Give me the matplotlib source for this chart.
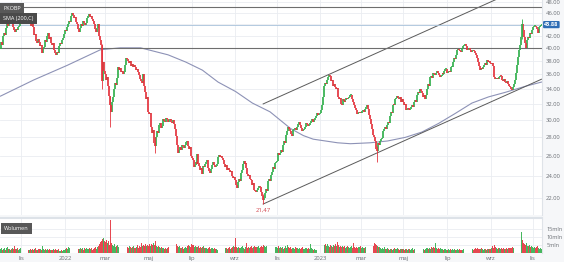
import numpy as np
import pandas as pd
import matplotlib
matplotlib.use('Agg')
from matplotlib import pyplot as plt
from matplotlib.ticker import FixedLocator, FuncFormatter, NullLocator

# kursy zamkniecia PKOBP, sesja po sesji (od 1 paz 2021)
close_2021 = [
    39.8, 40.9, 40.5, 41.9, 42.4, 42.1, 43.3, 44.0, 43.6, 44.8, 45.0, 44.2, 44.5, 43.4, 43.0, 42.6, 43.1, 42.9, 43.4, 43.7, 44.2,
    44.0, 44.6, 45.3, 45.0, 46.0, 45.5, 45.7, 44.8, 44.2, 44.5, 43.7, 43.9, 43.4, 42.1, 42.3, 41.1, 40.8, 41.4, 41.0, 40.3, 40.5, 39.2,
    39.9, 40.2, 41.2, 41.0, 41.9, 42.4, 42.0, 41.5, 41.7, 40.8, 40.5, 40.7, 39.7, 39.2, 38.9, 39.4, 39.2, 40.3, 40.8, 40.6, 41.3, 41.6, 42.2,
]
close_2022 = [
    43.0, 42.7, 43.4, 44.0, 44.6, 44.3, 45.4, 46.0, 45.6, 45.0, 45.3, 44.3, 44.0, 43.2, 42.6, 43.3, 44.0, 43.7, 44.6, 44.2, 43.8,
    44.2, 45.0, 45.4, 45.7, 45.3, 45.5, 44.9, 44.6, 44.0, 43.2, 42.6, 43.3, 43.9, 42.8, 42.0, 41.3, 40.5, 35.0, 37.8, 36.5,
    36.0, 35.2, 35.6, 34.3, 33.0, 31.8, 31.0, 32.3, 32.9, 34.0, 34.8, 34.5, 35.5, 37.0, 36.6, 36.9, 36.3, 36.5, 36.0, 36.4, 37.3, 38.4, 38.2,
    38.0, 37.6, 37.9, 37.2, 37.5, 37.0, 37.3, 37.0, 36.6, 36.8, 36.3, 35.9, 35.4, 35.0, 34.8, 36.0, 34.4, 33.5, 32.6, 32.9, 31.4,
    31.0, 30.7, 30.9, 29.2, 28.5, 28.8, 27.4, 27.1, 28.0, 28.7, 28.5, 29.4, 29.6, 29.1, 29.3, 30.1, 29.9, 29.8, 30.2, 30.1, 29.8, 30.0,
    30.1, 29.8, 29.6, 30.0, 29.5, 29.0, 28.2, 27.2, 26.3, 26.6, 26.9, 26.6, 27.2, 27.0, 26.8, 27.2, 27.5, 27.6, 27.1, 26.7, 26.9, 26.0,
    25.8, 25.6, 24.9, 25.1, 25.4, 25.2, 26.2, 25.3, 25.0, 24.6, 24.8, 24.2, 25.0, 24.9, 25.2, 25.4, 25.6, 24.8, 24.5, 24.3, 24.7,
    25.1, 25.4, 25.1, 24.9, 25.0, 25.2, 25.9, 26.1, 25.9, 26.0, 25.8, 25.6, 25.2, 24.9, 25.1, 24.6, 24.8, 24.6, 24.4, 24.5, 24.0, 23.8, 23.9,
    23.6, 23.2, 22.9, 23.4, 23.7, 23.5, 24.3, 24.6, 25.2, 25.5, 25.2, 25.3, 24.8, 24.2, 24.0, 24.1, 23.7, 23.6, 23.2, 23.3, 22.7, 22.6,
    22.5, 22.7, 22.9, 23.1, 23.0, 22.5, 22.2, 21.8, 22.0, 22.4, 22.8, 22.6, 23.5, 23.7, 23.5, 24.1, 24.4, 24.9, 24.7, 25.3, 25.4,
    25.5, 26.3, 26.1, 26.3, 26.6, 26.4, 27.2, 27.6, 27.4, 28.3, 28.7, 29.2, 29.0, 28.7, 28.4, 28.2, 28.8, 29.0, 29.1, 28.9, 28.8, 29.2,
    29.5, 29.8, 29.4, 29.1, 28.7, 28.8, 28.9, 29.2, 29.6, 29.5, 29.3, 29.4, 29.6, 29.9, 30.1, 29.8, 30.0, 30.3, 30.5, 30.8, 30.6, 30.7,
]
close_2023 = [
    30.8, 31.2, 31.8, 32.9, 34.4, 34.8, 34.6, 35.2, 35.6, 35.9, 35.7, 35.0, 35.2, 34.4, 34.6, 34.2, 33.9, 34.1, 32.9, 32.6, 32.8, 32.0,
    31.8, 32.6, 32.4, 32.2, 32.5, 32.8, 32.6, 32.7, 32.9, 33.1, 33.2, 32.6, 32.2, 31.8, 31.5, 31.2, 30.7, 30.9, 31.0, 30.8,
    30.9, 31.1, 31.2, 31.0, 31.4, 31.6, 31.8, 31.3, 30.6, 30.1, 29.5, 29.0, 28.3, 28.0, 27.6, 26.7, 26.5, 27.4, 27.2, 27.6, 27.8, 27.9, 28.7,
    28.9, 29.2, 29.0, 29.4, 29.8, 29.6, 30.5, 31.0, 30.8, 31.8, 32.0, 31.8, 32.6, 32.8, 33.0, 32.8, 32.6, 32.9, 32.2, 32.6,
    32.2, 31.8, 32.0, 31.2, 31.3, 31.5, 31.2, 31.4, 31.6, 31.8, 31.6, 32.2, 32.5, 32.3, 33.2, 33.6, 33.4, 33.9, 33.7, 33.4, 32.9, 33.1, 32.6,
    33.2, 33.9, 34.6, 34.4, 35.6, 35.8, 35.5, 36.2, 36.0, 35.9, 36.2, 36.5, 36.2, 35.9, 35.6, 35.8, 35.9, 36.2, 36.0, 36.5, 36.7, 36.8,
    36.2, 36.4, 36.5, 36.3, 37.0, 37.1, 37.8, 38.4, 38.2, 38.9, 39.7, 39.8, 39.7, 39.5, 39.4, 40.0, 40.3, 40.5, 40.6, 40.3, 39.7,
    39.8, 40.0, 39.7, 39.4, 39.5, 39.7, 39.5, 39.2, 38.8, 38.4, 37.8, 37.2, 36.6, 36.9, 36.8, 37.1, 37.3, 37.6, 37.4, 38.1, 37.8, 37.9, 37.6,
    37.5, 37.7, 37.3, 37.2, 35.6, 35.3, 35.4, 35.5, 35.3, 35.6, 35.8, 35.7, 35.2, 35.1, 35.3, 34.9, 34.8, 35.0, 34.7, 34.4, 34.2,
    34.0, 33.8, 34.2, 34.7, 35.2, 36.2, 37.3, 38.6, 39.7, 40.5, 41.8, 44.0, 43.0, 41.8, 40.8, 40.0, 41.3, 41.8, 41.6, 42.4, 42.2, 42.9,
    43.4, 43.6, 43.7, 43.5, 43.2, 42.4, 43.4, 43.7, 43.8, 43.88,
]

# wolumen w mln akcji
vol_2021 = [
    2.4, 3.0, 2.1, 2.6, 3.2, 2.0, 2.8, 3.5, 2.2, 2.7, 1.9, 2.5, 3.1, 2.3, 4.0, 2.6, 2.2, 2.9, 2.0, 2.4, 3.3,
    2.6, 4.1, 2.8, 2.2, 2.0, 2.5, 1.8, 2.3, 2.1, 1.9, 2.6, 2.0, 2.4, 1.7, 2.2, 2.9, 2.0, 1.8, 2.5, 2.2, 2.7, 2.0,
    4.4, 2.3, 2.0, 2.6, 1.8, 2.2, 1.9, 2.4, 2.0, 1.7, 2.1, 2.5, 1.9, 2.2, 1.6, 1.8, 2.3, 1.5, 1.4, 1.9, 1.2, 1.6, 2.0,
]
vol_2022 = [
    2.6, 3.0, 2.4, 3.6, 2.8, 3.9, 2.5, 3.2, 2.7, 2.2, 3.4, 2.9, 2.1, 3.8, 2.6, 2.4, 3.0, 2.3, 2.8, 2.0, 3.3,
    2.5, 2.9, 2.2, 2.6, 3.1, 2.4, 2.8, 2.0, 2.7, 3.0, 3.4, 2.6, 3.8, 4.2, 5.5, 6.8, 7.6, 8.9, 9.4, 7.2,
    6.5, 8.0, 5.9, 7.4, 4.8, 20.3, 6.2, 5.1, 4.6, 5.8, 3.9, 4.4, 5.2, 3.6, 4.9, 3.8, 4.2, 3.3, 4.6, 3.5, 3.0, 4.1, 3.4,
    3.8, 3.2, 4.4, 3.6, 2.9, 3.4, 4.0, 3.1, 2.8, 3.5, 4.8, 3.3, 4.2, 3.7, 5.9, 4.5, 5.2, 4.0, 5.6, 4.3, 4.9,
    4.6, 5.4, 4.1, 5.8, 4.7, 6.0, 5.1, 7.1, 4.4, 3.8, 4.2, 3.5, 3.1, 3.7, 2.8, 3.3, 2.6, 3.0, 2.4, 2.9, 3.4, 2.5,
    2.8, 3.1, 2.4, 3.6, 2.7, 3.9, 4.8, 5.3, 4.6, 3.5, 4.1, 3.2, 2.9, 3.6, 2.7, 3.3, 3.8, 3.0, 4.5, 5.0, 4.2, 3.6,
    5.4, 4.7, 5.1, 3.9, 4.3, 3.4, 3.8, 4.6, 3.2, 3.7, 2.9, 3.5, 4.0, 3.1, 2.8, 3.3, 2.6, 3.0, 3.6, 2.7, 3.2,
    2.9, 2.5, 3.1, 2.3, 2.7, 2.1, 2.8, 3.4, 2.4, 2.0, 2.6, 2.2, 3.0, 2.5, 2.8, 3.3, 2.4, 2.9, 3.6, 2.7, 3.1, 3.8, 4.2,
    3.5, 9.2, 3.9, 3.2, 3.6, 2.8, 3.3, 3.9, 4.4, 3.1, 2.7, 3.4, 6.1, 3.0, 3.6, 2.9, 3.5, 4.0, 3.2, 3.7, 4.3, 3.6,
    3.9, 3.4, 4.6, 3.1, 3.8, 4.2, 3.5, 5.0, 4.1, 3.6, 4.4, 3.2, 3.9, 4.7, 3.3, 3.8, 4.5, 3.6, 5.2, 4.0, 3.4,
    3.7, 3.2, 4.1, 2.9, 3.5, 3.0, 3.8, 2.7, 3.3, 4.4, 3.1, 5.0, 3.4, 2.8, 3.6, 2.6, 3.2, 2.9, 2.5, 3.4, 2.8, 3.1,
    2.7, 3.0, 2.4, 2.9, 3.5, 2.6, 2.3, 3.2, 2.8, 2.5, 3.0, 2.2, 5.7, 2.9, 2.4, 2.1, 2.7, 1.9, 1.6, 2.2, 1.5, 1.8,
]
vol_2023 = [
    2.6, 3.4, 4.5, 5.2, 6.0, 4.8, 5.5, 4.2, 5.8, 4.6, 3.9, 5.1, 4.4, 3.7, 4.9, 4.1, 5.3, 4.5, 7.0, 4.8, 3.9, 4.3,
    3.8, 4.4, 3.5, 4.0, 3.2, 3.7, 4.2, 3.4, 3.0, 3.6, 4.1, 3.3, 6.1, 3.9, 3.1, 3.5, 2.9, 3.4, 3.8, 4.5,
    3.2, 3.6, 2.9, 3.3, 3.8, 3.1, 3.5, 4.0, 4.6, 4.2, 3.7, 4.8, 5.3, 4.4, 6.2, 5.6, 5.0, 4.3, 3.9, 3.4, 3.0, 2.7, 3.2,
    2.6, 3.6, 2.4, 2.2, 2.8, 2.5, 2.1, 2.7, 2.3, 2.0, 2.6, 2.9, 2.4, 2.2, 2.8, 2.3, 2.0, 2.5, 2.7, 2.2,
    2.4, 2.1, 2.7, 2.3, 2.0, 2.6, 2.2, 1.9, 2.5, 2.8, 2.1, 2.4, 2.0, 2.6, 2.3, 2.9, 2.2, 3.0, 2.5, 2.1, 2.7, 2.4, 2.0,
    2.5, 2.8, 3.2, 2.6, 3.0, 2.7, 3.4, 2.9, 3.5, 3.1, 6.0, 3.3, 2.6, 3.0, 2.4, 2.8, 2.2, 2.6, 2.1, 2.5, 2.3, 1.9,
    2.0, 2.4, 1.8, 2.2, 1.9, 2.6, 2.1, 2.3, 1.7, 2.0, 2.5, 1.8, 2.2, 1.6, 2.1, 1.9, 2.4, 1.7, 2.0, 2.3, 1.8,
    1.9, 2.2, 1.7, 2.4, 2.0, 2.6, 2.1, 2.3, 2.8, 2.5, 3.0, 2.7, 2.4, 2.2, 2.9, 2.5, 2.1, 2.6, 2.3, 2.0, 2.5, 2.2, 2.7,
    2.4, 2.9, 4.0, 3.3, 5.2, 3.8, 3.1, 2.7, 3.2, 2.8, 2.5, 3.0, 2.6, 2.9, 2.4, 2.7, 3.1, 2.5, 2.8, 3.2, 2.9,
    3.0, 3.4, 2.9, 3.6, 3.9, 4.5, 4.1, 5.0, 4.4, 5.6, 6.3, 12.6, 7.8, 6.2, 5.4, 4.8, 5.9, 4.6, 4.2, 5.1, 3.8, 4.4,
    3.6, 3.1, 3.9, 2.8, 3.4, 4.2, 3.0, 2.6, 2.9, 2.4,
]

# najwazniejsze cienie swiec (nr sesji, min, max)
wick_day = [104, 112, 158, 268, 384, 532]
wick_low = [33.9, 29.2, 26.3, 21.47, 25.4, 41.5]
wick_high = [40.6, 33.0, 28.0, 22.3, 27.0, 44.9]

# SMA 200
sma_day = [0, 34, 68, 102, 122, 143, 171, 189, 206, 222, 240, 257, 275, 296, 309, 319,
           344, 357, 377, 395, 413, 430, 447, 464, 481, 498, 515, 535, 552]
sma_val = [33.0, 35.2, 37.3, 39.7, 40.0, 40.0, 38.9, 37.8, 36.6, 34.9, 33.6, 32.1, 31.0, 29.0, 28.2, 27.8,
           27.4, 27.3, 27.4, 27.6, 28.0, 28.6, 29.6, 30.8, 32.1, 32.9, 33.5, 34.3, 34.9]

# kanal wzrostowy i poziomy
channel_day = [268, 552]
channel_low = [21.47, 35.3]
channel_ratio = 1.49
levels = [47.0, 40.0]

price_ticks = [22, 24, 26, 28, 30, 32, 34, 36, 38, 40, 42, 44, 46, 48]
vol_ticks = [5, 10, 15]
pl_months = {3: 'mar', 5: 'maj', 7: 'lip', 9: 'wrz', 11: 'lis'}

close = np.array(close_2021 + close_2022 + close_2023)
vol = np.array(vol_2021 + vol_2022 + vol_2023)
n = len(close)
x = np.arange(n)
dates = pd.bdate_range('2021-10-01', periods=n)
last = close[-1]

GREEN = '#33b04e'
RED = '#e4343e'
GRID = '#eaedf1'

fig = plt.figure(figsize=(5.64, 2.62), dpi=100)
fig.patch.set_facecolor('#f6f7f9')
plt.rcParams['font.family'] = ['Open Sans', 'DejaVu Sans']

ax = fig.add_axes([0, 1 - 215 / 262, 542 / 564, 215 / 262])
axv = fig.add_axes([0, 1 - 253 / 262, 542 / 564, 35 / 262], sharex=ax)
for a in (ax, axv):
    a.set_facecolor('white')
    for s in a.spines.values():
        s.set_visible(False)
    a.spines['right'].set_visible(True)
    a.spines['right'].set_color('#dfe3e8')
axv.spines['top'].set_visible(True)
axv.spines['top'].set_color('#dde2e8')
axv.spines['top'].set_linewidth(1.5)

# swiece
opn = np.r_[close[0], close[:-1]]
up = close >= opn
lo = np.minimum(opn, close)
hi = np.maximum(np.maximum(opn, close), lo * 1.004)
ax.vlines(x[up], lo[up], hi[up], color=GREEN, lw=1.25, zorder=3)
ax.vlines(x[~up], lo[~up], hi[~up], color=RED, lw=1.25, zorder=3)
wick_col = [GREEN if up[d] else RED for d in wick_day]
ax.vlines(wick_day, wick_low, wick_high, colors=wick_col, lw=0.6, zorder=3)

# SMA, kanal, poziomy
ax.plot(sma_day, sma_val, color='#8d92b6', lw=0.8, zorder=2)
ch_low = np.array(channel_low)
ax.plot(channel_day, ch_low, color='#5a5a5a', lw=0.7, zorder=2)
ax.plot(channel_day, ch_low * channel_ratio, color='#5a5a5a', lw=0.7, zorder=2)
for lv in levels:
    ax.axhline(lv, color='#6e6e6e', lw=0.8, zorder=2)
ax.axhline(last, color='#a7c2da', lw=0.6, zorder=2)

ax.set_yscale('log')
ax.set_ylim(20.55, 48.4)
ax.set_xlim(-0.5, n - 0.5)
ax.yaxis.tick_right()
ax.yaxis.set_major_locator(FixedLocator(price_ticks))
ax.yaxis.set_minor_locator(NullLocator())
ax.yaxis.set_major_formatter(FuncFormatter(lambda v, p: '' if abs(v - last) < 0.6 else f'{v:.2f}'))
ax.tick_params(axis='y', length=0, pad=3, labelsize=4.2, labelcolor='#6b6f75')
ax.grid(axis='both', color=GRID, lw=0.6, zorder=0)

# os czasu
starts = [i for i in range(1, n) if dates[i].month != dates[i - 1].month and dates[i].month % 2 == 1]
tick_lab = [str(dates[i].year) if dates[i].month == 1 else pl_months[dates[i].month] for i in starts]
ax.set_xticks(starts)
ax.tick_params(axis='x', length=0, labelbottom=False)
axv.set_xticks(starts)
axv.set_xticklabels(tick_lab)
axv.tick_params(axis='x', length=0, pad=2, labelsize=4.2, labelcolor='#6b6f75')

# wolumen
vcol = np.where(up, GREEN, RED)
axv.bar(x, vol, width=0.85, color=vcol, linewidth=0, alpha=0.9, zorder=3)
axv.set_ylim(0, 21.5)
axv.yaxis.tick_right()
axv.set_yticks(vol_ticks)
axv.set_yticklabels([f'{v}mln' for v in vol_ticks])
axv.tick_params(axis='y', length=0, pad=3, labelsize=4.0, labelcolor='#6b6f75')
axv.grid(axis='both', color=GRID, lw=0.6, zorder=0)

# opisy
box = dict(boxstyle='square,pad=0.55', fc='#585858', ec='none')
ax.text(0.006, 0.972, 'PKOBP', transform=ax.transAxes, fontsize=4.0, color='white',
        ha='left', va='top', bbox=box, zorder=6)
ax.text(0.006, 0.925, 'SMA (200,C)', transform=ax.transAxes, fontsize=4.0, color='white',
        ha='left', va='top', bbox=dict(boxstyle='square,pad=0.55', fc='#4a4a4a', ec='none'), zorder=6)
axv.text(0.008, 0.78, 'Wolumen', transform=axv.transAxes, fontsize=4.0, color='white',
         ha='left', va='top', bbox=box, zorder=6)
ax.text(1.004, last, f'{last:.2f}', transform=ax.get_yaxis_transform(), fontsize=4.0,
        color='white', fontweight='bold', ha='left', va='center', clip_on=False,
        bbox=dict(boxstyle='round,pad=0.2', fc='#2f6db5', ec='none'), zorder=6)
imin = int(np.argmin(wick_low))
ax.text(wick_day[imin], wick_low[imin] * 0.975, f'{wick_low[imin]:.2f}'.replace('.', ','),
        fontsize=4.2, color='#d2454d', ha='center', va='center', zorder=6)

fig.savefig('out.png', dpi=100, facecolor=fig.get_facecolor())
